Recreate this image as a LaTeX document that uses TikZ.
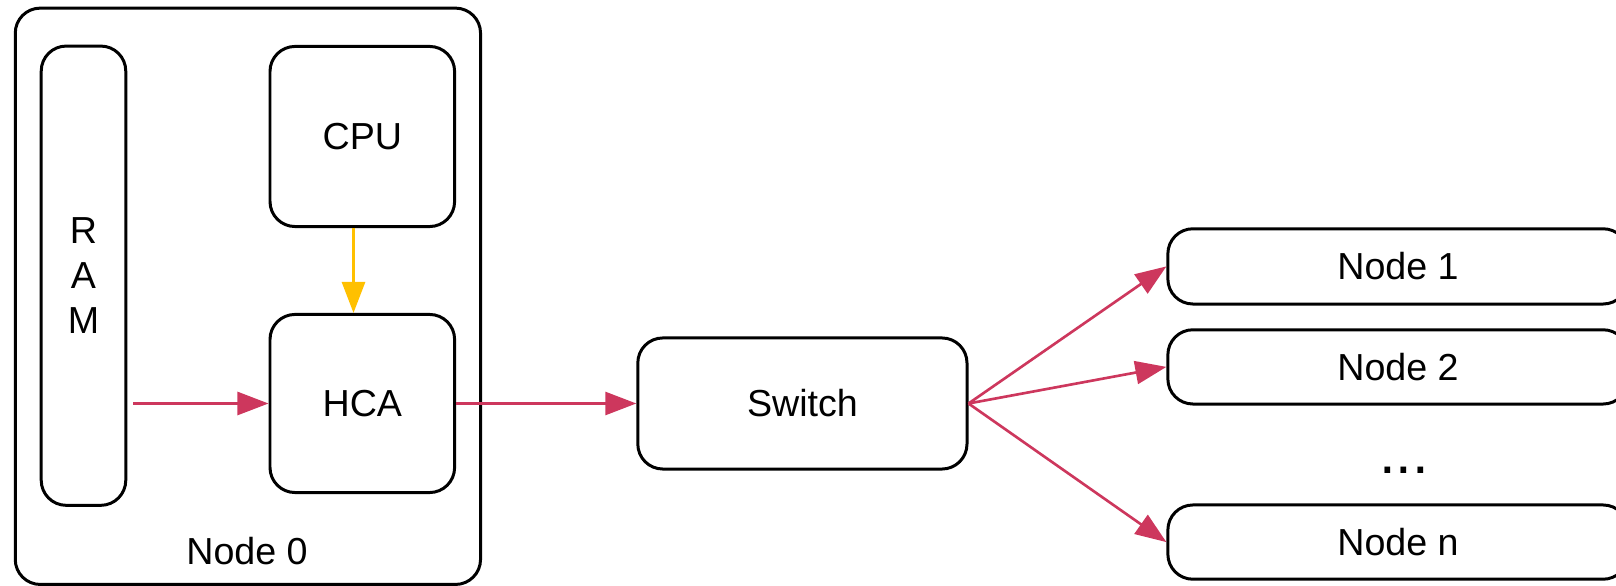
\documentclass[tikz,border=0pt]{standalone}
\usepackage{fontspec}
\setmainfont{Liberation Sans}
\usetikzlibrary{arrows.meta}
\definecolor{linkred}{RGB}{205,55,93}
\definecolor{busyellow}{RGB}{255,192,0}

\begin{document}
\begin{tikzpicture}[
        x=0.01cm, y=-0.01cm,
        txt/.style={font=\fontsize{10.7}{12.7}\selectfont},
        box/.style={draw, rounded corners=0.25cm, line width=0.85pt, inner sep=0pt, txt},
        link/.style={draw=linkred, line width=0.75pt, -{Triangle[length=0.31cm, width=0.23cm]}},
        bus/.style={draw=busyellow, line width=0.8pt, -{Triangle[length=0.31cm, width=0.23cm]}},
    ]
    \clip (0,0) rectangle (1616,586);

    % host
    \node[box, minimum width=4.65cm, minimum height=5.76cm](node0) at (247.9,296.3){};
    \node[txt](node0label) at (247,551.4){Node 0};
    \node[box, minimum width=0.845cm, minimum height=4.59cm, align=center](ram) at (83.5,275.7){R\\A\\M};
    \node[box, minimum width=1.845cm, minimum height=1.80cm](cpu) at (362.3,136.5){CPU};
    \node[box, minimum width=1.845cm, minimum height=1.78cm](hca) at (362.3,403.5){HCA};

    % fabric
    \node[box, minimum width=3.29cm, minimum height=1.31cm](switch) at (802.4,403.5){Switch};
    \node[box, minimum width=4.6cm, minimum height=0.752cm](node1) at (1398,266.4){Node 1};
    \node[box, minimum width=4.6cm, minimum height=0.742cm](node2) at (1398,366.9){Node 2};
    \node[font=\fontsize{17}{20}\selectfont, anchor=base](dots) at (1404,474){...};
    \node[box, minimum width=4.6cm, minimum height=0.742cm](noden) at (1398,542.1){Node n};

    \draw[bus] ([xshift=-0.088cm]cpu.south) -- ([xshift=-0.088cm]hca.north);
    \draw[link, shorten <=0.06cm] (ram.east |- hca.west) -- (hca.west);
    \draw[link] (hca) -- (switch);
    \draw[link] (switch.east) -- (node1.west);
    \draw[link] (switch.east) -- (node2.west);
    \draw[link] (switch.east) -- (noden.west);

\end{tikzpicture}
\end{document}
